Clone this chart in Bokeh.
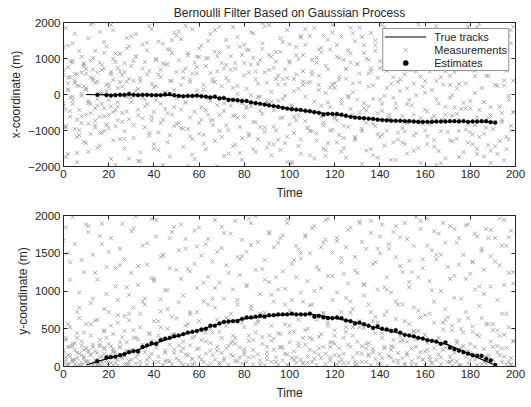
from bokeh.plotting import figure
from bokeh.models import FixedTicker, LinearAxis, Range1d, Legend, LegendItem
from bokeh.layouts import column
from bokeh.embed import file_html
from bokeh.resources import INLINE

# ---------------- data ----------------
x_ticks = [0, 20, 40, 60, 80, 100, 120, 140, 160, 180, 200]
y_ticks_top = [-2000, -1000, 0, 1000, 2000]
y_ticks_bottom = [0, 500, 1000, 1500, 2000]

# clutter / measurements (time, x, y) - block A (wide spread)
meas_t_a = [
    1,1,2,2,3,3,4,5,5,6,7,7,8,9,9,10,11,11,12,13,
    13,14,15,15,16,17,17,18,19,19,20,21,21,22,23,23,24,25,25,26,
    27,27,28,29,29,30,31,31,32,33,33,34,35,35,36,37,37,38,39,39,
    40,41,41,42,43,43,44,45,45,46,47,47,48,49,49,50,51,51,52,53,
    53,54,55,55,56,57,57,58,59,59,60,61,61,62,63,63,64,65,65,66,
    67,67,68,69,69,70,71,71,72,73,73,74,75,75,76,77,77,78,79,79,
    80,81,81,82,83,83,84,85,85,86,87,87,88,89,89,90,91,91,92,93,
    93,94,95,95,96,97,97,98,99,99,100,101,101,102,103,103,104,105,105,106,
    107,107,108,109,109,110,111,111,112,113,113,114,115,115,116,117,117,118,119,119,
    120,121,121,122,123,123,124,125,125,126,127,127,128,129,129,130,131,131,132,133,
    133,134,135,135,136,137,137,138,139,139,140,141,141,142,143,143,144,145,145,146,
    147,147,148,149,149,150,151,151,152,153,153,154,155,155,156,157,157,158,159,159,
    160,161,161,162,163,163,164,165,165,166,167,167,168,169,169,170,171,171,172,173,
    173,174,175,175,176,177,177,178,179,179,180,181,181,182,183,183,184,185,185,186,
    187,187,188,189,189,190,191,191,192,193,193,194,195,195,196,197,197,198,199,199,
]
meas_x_a = [
    1850,-420,310,-1650,920,-80,1420,-960,560,-1880,240,1210,-610,-1320,780,130,-240,1560,-1100,450,
    1010,-730,-1480,360,1740,-260,680,-1010,90,1330,-560,1930,-1790,410,-880,1140,-330,640,-1240,220,
    870,-1500,1280,-50,-690,1620,380,-1200,1050,-420,150,-1850,720,1390,-910,560,-270,1900,-620,300,
    -1380,990,-150,1470,-790,480,-1960,830,60,-520,1250,-1130,380,1720,-350,-820,950,-40,1540,-1450,
    640,-230,1150,-960,420,-1670,1810,-480,760,110,-1090,1360,-700,270,-1520,1000,-120,590,1680,-850,
    350,-1290,1060,-560,1880,-80,-1710,720,460,-990,1320,-310,190,-1440,870,1590,-650,-200,1100,-1820,
    530,-380,1240,-1150,830,-20,1700,-770,-1600,300,960,-450,1420,-1030,620,-240,1930,-1360,80,740,
    -890,1180,-170,520,-1540,1460,-640,280,-1170,1790,880,-350,-1880,430,1090,-710,160,1620,-1250,650,
    -60,1380,-920,340,-1690,960,1850,-470,-1080,520,120,1300,-780,-1500,800,-220,1520,-1000,280,1720,
    -600,1050,-1330,410,1610,-140,-870,720,-1760,1230,-400,890,60,-1180,1480,-640,330,1860,-950,-240,
    1150,-1560,590,-330,1710,-820,250,1360,-1100,-520,920,1940,-260,-1420,660,180,-690,1240,-1820,480,
    1560,-380,-1250,830,100,-930,1420,560,-1640,-150,1080,1790,-560,300,-1080,1320,-760,-1900,960,220,
    -420,1640,-1160,640,1170,-660,-1450,380,1900,-250,810,-1020,1500,-560,-1770,1080,-90,520,-1300,1350,
    1730,-540,-1010,290,1210,-230,-1600,880,1480,-830,-390,1020,-1380,660,1860,-630,-1180,1280,180,-1720,
    520,-920,1460,-350,-1560,1090,-760,1760,240,-1290,820,-510,1350,-1830,660,-140,1600,-1000,380,1890,
]
meas_y_a = [
    120,1840,40,560,1380,260,80,1620,310,720,20,980,150,1250,450,60,1780,210,840,30,
    1480,90,620,1150,270,1890,10,760,1320,380,140,540,1700,230,1060,50,880,1560,320,110,
    670,1420,190,950,30,1240,480,1830,120,360,1080,700,250,1600,820,90,1350,430,1950,170,
    1130,330,1720,60,890,520,1480,210,1010,760,70,1300,420,1850,180,640,1540,280,1160,20,
    940,1690,150,560,1260,380,30,1800,720,1040,240,1470,90,860,1620,330,1190,500,40,1390,
    780,1940,210,1110,460,1570,80,900,1340,270,620,1760,140,1020,380,1450,70,1210,580,1680,
    230,1060,1520,410,800,1900,130,1280,560,1650,30,960,390,1410,710,190,1120,1780,340,860,
    1580,60,1020,440,1700,250,1260,820,1950,160,540,1360,700,90,1180,1600,310,980,1430,50,
    1740,480,1130,220,1500,820,1860,100,660,1280,390,1040,1640,260,1940,580,1200,120,880,1510,
    300,1660,980,140,1380,720,40,1580,460,1100,1840,260,760,1450,60,1240,520,1920,170,940,
    1090,1560,310,820,1770,190,1360,660,1020,40,1500,440,1880,240,1180,730,1620,120,980,350,
    1450,860,80,1710,330,1250,600,1900,180,1050,1400,20,780,1600,260,1180,470,1820,90,1300,
    680,1960,220,1130,1540,40,860,1420,330,1760,120,1000,580,1640,250,1320,60,1860,480,910,
    1200,310,1700,20,900,1480,180,1160,640,1880,90,1380,460,1020,1720,150,800,1560,30,1280,
    560,1820,110,1060,1460,260,1700,20,880,1340,150,1600,420,1940,700,60,1240,1800,330,1100,
]

# block B (denser near the middle in x and near the floor in y)
meas_t_b = [
    0,0,1,2,2,3,4,4,5,6,6,7,8,8,9,10,10,11,12,12,
    13,14,14,15,16,16,17,18,18,19,20,20,21,22,22,23,24,24,25,26,
    26,27,28,28,29,30,30,31,32,32,33,34,34,35,36,36,37,38,38,39,
    40,40,41,42,42,43,44,44,45,46,46,47,48,48,49,50,50,51,52,52,
    53,54,54,55,56,56,57,58,58,59,60,60,61,62,62,63,64,64,65,66,
    66,67,68,68,69,70,70,71,72,72,73,74,74,75,76,76,77,78,78,79,
    80,80,81,82,82,83,84,84,85,86,86,87,88,88,89,90,90,91,92,92,
    93,94,94,95,96,96,97,98,98,99,100,100,101,102,102,103,104,104,105,106,
    106,107,108,108,109,110,110,111,112,112,113,114,114,115,116,116,117,118,118,119,
    120,120,121,122,122,123,124,124,125,126,126,127,128,128,129,130,130,131,132,132,
    133,134,134,135,136,136,137,138,138,139,140,140,141,142,142,143,144,144,145,146,
    146,147,148,148,149,150,150,151,152,152,153,154,154,155,156,156,157,158,158,159,
    160,160,161,162,162,163,164,164,165,166,166,167,168,168,169,170,170,171,172,172,
    173,174,174,175,176,176,177,178,178,179,180,180,181,182,182,183,184,184,185,186,
    186,187,188,188,189,190,190,191,192,192,193,194,194,195,196,196,197,198,198,199,
]
meas_x_b = [
    -250,680,-910,140,470,-620,880,-70,320,-1180,560,-430,1050,-790,230,-1350,710,-180,940,-520,
    390,-860,1220,-310,60,-1060,830,-600,1460,270,-150,-940,620,-1270,990,-440,180,-720,1130,-30,
    540,-1020,360,-470,1340,-210,790,-860,110,1060,-580,-1610,450,-90,900,-330,1230,-1140,660,-720,
    200,-480,960,-1050,560,-260,1410,-700,30,840,-1330,380,-560,1150,-880,620,-110,1750,-420,270,
    -950,730,-210,1090,-640,350,-1230,880,-30,590,-800,1280,-360,140,-1120,790,-560,1010,-180,430,
    -710,1190,-300,640,-1010,230,870,-460,1520,-860,380,-140,1060,-590,-1390,720,20,-900,1330,-250,
    870,-610,160,-1090,610,-330,1020,-760,420,-1240,850,-60,-540,1270,-920,330,-1480,680,-200,1050,
    -440,910,-1000,280,-650,1180,-120,700,-1350,460,-830,1400,-300,90,-1070,560,-580,980,-1640,360,
    1100,-740,330,-480,1620,-1020,640,-200,880,-1280,270,-620,1170,-860,40,-1540,700,-350,1250,-980,
    180,-660,1380,-1130,490,-250,960,-1480,710,-40,-900,1140,-560,310,-1260,840,-140,580,-1020,1600,
    -380,1000,-780,220,-1520,640,-120,1210,-880,460,-1180,730,-460,1470,-40,-1000,910,-650,300,-1330,
    810,-250,1260,-1060,420,-600,990,-1380,170,-790,1530,-300,680,-1140,-20,890,-1480,500,-660,1190,
    -1000,370,-470,1360,-820,120,-1270,760,-120,1050,-1570,480,-700,1220,-340,850,-1040,260,-590,1480,
    620,-1230,170,-700,1030,-400,1640,-970,310,-1340,690,-180,1180,-850,40,-1510,790,-430,1310,-1090,
    -210,860,-1410,510,-580,1260,-960,270,-1650,940,-330,1120,-760,390,-1180,700,-40,-870,1420,-500,
]
meas_y_b = [
    60,210,380,10,150,520,90,270,30,440,180,640,20,330,110,560,240,70,410,160,
    290,40,610,180,20,350,130,480,250,80,720,300,50,200,430,110,580,10,260,390,
    140,470,30,320,610,90,220,780,40,380,160,520,70,290,900,190,30,440,120,340,
    600,60,250,410,130,730,20,360,180,500,80,290,660,30,220,420,110,850,200,50,
    330,160,540,20,280,690,100,400,40,230,600,130,350,60,470,170,820,10,310,150,
    450,90,260,620,30,180,380,110,540,240,20,700,160,410,70,300,880,120,250,40,
    190,520,60,340,120,760,220,30,450,160,590,80,300,680,20,260,140,410,60,950,
    370,120,680,30,250,430,80,560,170,20,320,740,110,460,200,50,620,270,90,380,
    40,290,500,130,810,60,360,190,620,20,240,430,110,700,170,30,540,260,80,320,
    150,480,30,240,640,90,380,170,520,50,290,860,120,410,20,330,180,600,60,270,
    510,60,300,140,720,20,230,440,100,580,170,40,380,260,680,10,140,490,220,70,
    260,630,40,180,400,110,820,20,330,150,560,70,240,470,30,360,120,650,190,90,
    420,20,310,700,130,50,240,580,90,380,160,30,490,220,760,60,280,130,540,10,
    180,340,70,610,20,250,450,120,720,40,300,180,530,90,260,20,400,150,640,60,
    230,40,560,150,330,90,480,20,270,190,410,60,700,130,30,250,520,110,20,340,
]

# block C (dense clutter near the origin)
meas_t_c = [0,0,1,2,2,3,4,4,5,6,6,7,8,8,9,10,10,11,12,12,
            13,14,14,15,16,16,17,18,18,19,20,21,22,23,24,25,26,27,28,29]
meas_x_c = [-320,540,-880,120,760,-460,940,-150,380,-700,250,-990,610,-40,830,-560,170,-810,470,-260,
            690,-920,330,-130,880,-620,40,-380,720,-840,210,560,-480,900,-210,350,-760,620,-60,440]
meas_y_c = [40,180,90,260,20,140,300,60,220,110,10,170,280,50,130,240,70,190,30,150,
            260,80,200,10,120,290,60,170,230,40,110,270,20,190,90,250,140,30,210,70]

# block D (further wide-spread clutter)
meas_t_d = [
    0,1,3,4,5,7,8,9,11,12,14,15,16,18,19,20,22,23,24,26,
    27,28,30,31,33,34,35,37,38,39,41,42,43,45,46,47,49,50,52,53,
    54,56,57,58,60,61,62,64,65,66,68,69,71,72,73,75,76,77,79,80,
    81,83,84,85,87,88,90,91,92,94,95,96,98,99,100,102,103,104,106,107,
    109,110,111,113,114,115,117,118,119,121,122,123,125,126,128,129,130,132,133,134,
    136,137,138,140,141,142,144,145,147,148,149,151,152,153,155,156,157,159,160,161,
    163,164,166,167,168,170,171,172,174,175,176,178,179,180,182,183,185,186,187,189,
    190,191,193,194,195,197,198,199,2,6,10,13,17,21,25,29,32,36,40,44,
    48,51,55,59,63,67,70,74,78,82,86,89,93,97,101,105,108,112,116,120,
    124,127,131,135,139,143,146,150,154,158,162,165,169,173,177,181,184,188,192,196,
]
meas_x_d = [
    1320,-1740,480,-260,1690,-1130,20,870,-1590,1950,-380,610,-1420,1160,-840,290,1780,-1960,740,-510,
    -1230,1570,-90,930,-1850,370,-660,1440,-1070,1810,230,-1550,690,-400,1260,-1720,120,1640,-930,460,
    1910,-1160,580,-1800,1050,-20,-1370,1490,-720,360,-1990,1170,-250,820,-1640,1870,-580,240,-1210,1380,
    -330,1730,-1520,640,-910,1990,-170,1100,-1690,430,-1260,1560,-40,-1870,930,-620,1320,-1430,270,1820,
    -1010,560,-1780,1250,-310,1640,-1350,190,1930,-720,1010,-1590,440,-80,1700,-1220,850,-1930,1370,-450,
    720,-1690,1500,-140,-1120,1860,-560,980,-1820,350,1610,-1030,-270,1290,-1560,640,1950,-820,50,-1380,
    1440,-600,1040,-1910,280,1700,-1270,-20,1230,-1740,790,-380,1880,-1050,510,-1650,1170,-210,1560,-1900,
    920,-1440,1630,-700,250,-1250,1780,-480,1360,-1620,580,1990,-1060,-330,1130,-1780,1680,-140,-1500,860,
    1510,-790,-1990,1050,-430,1790,-1180,690,-1630,1240,-70,1890,-1390,420,-1910,1580,-930,1020,-1700,310,
    -1210,1850,-500,960,-1760,1400,-90,-1340,1720,-780,1180,-1950,650,-360,1540,-1110,1960,-640,1290,-1520,
]
meas_y_d = [
    1670,350,1150,1980,90,780,1410,220,1860,560,1240,30,1730,460,960,1520,190,1300,680,1890,
    140,1050,1790,380,1330,20,860,1630,290,1170,1940,600,1450,70,1010,1700,430,1280,1880,240,
    1560,720,100,1360,1840,480,1110,1690,210,900,1520,50,1770,640,1240,330,1930,820,1460,160,
    1080,1610,350,1990,700,1290,90,1760,540,1180,1640,260,1030,1900,450,1410,120,1550,860,1720,
    380,1830,1000,160,1580,710,1960,320,1200,1700,60,1440,910,1810,520,1270,30,1650,1080,240,
    1930,600,1380,1720,110,1050,1560,270,1860,820,1330,40,1690,1120,460,1980,740,1420,200,1600,
    1010,1790,300,1480,1900,650,1160,80,1640,1350,500,1870,210,1230,1760,420,1530,960,130,1810,
    560,1390,1960,240,1080,1710,30,1250,1500,380,1880,900,1620,130,1340,700,1990,260,1160,1470,
    1780,80,1290,1590,450,1040,1850,310,1420,1960,620,1150,220,1740,880,1500,50,1320,1680,410,
    1230,710,1900,160,1560,1020,1780,350,1250,1930,90,1480,620,1820,270,1390,1060,1700,480,1600,
]

# true tracks
true_t = [10, 20, 30, 40, 50, 60, 70, 80, 90, 100, 110, 120, 130, 140, 150, 160, 170, 180, 190]
true_x = [0, -10, 0, -10, -30, -40, -100, -180, -290, -400, -480, -550, -640, -700, -740, -760, -750, -750, -770]
true_y = [20, 110, 190, 300, 400, 480, 580, 630, 670, 690, 690, 640, 580, 500, 430, 360, 290, 160, 30]

# estimates
est_t = [15,19,21,23,25,27,29,31,33,35,37,39,41,43,45,47,49,51,53,55,
         57,59,61,63,65,67,69,71,73,75,77,79,81,83,85,87,89,91,93,95,
         97,99,101,103,105,107,109,111,113,115,117,119,121,123,125,127,129,131,133,135,
         137,139,141,143,145,147,149,151,153,155,157,159,161,163,165,167,169,171,173,175,
         177,179,181,183,185,187,189,191]
est_x = [-10,-20,-30,-20,-10,-10,20,-10,-20,-10,-10,-20,-20,-20,0,10,-20,-40,-50,-40,
         -40,-30,-50,-60,-80,-60,-110,-100,-150,-150,-160,-180,-180,-220,-240,-260,-280,-300,-320,-340,
         -370,-390,-410,-420,-430,-450,-460,-490,-510,-560,-540,-540,-540,-560,-590,-620,-640,-650,-660,-670,
         -680,-700,-710,-720,-730,-730,-730,-740,-740,-750,-760,-760,-760,-760,-750,-750,-750,-740,-740,-750,
         -740,-760,-750,-750,-740,-740,-770,-780]
est_y = [70,120,125,130,150,165,190,205,200,260,280,310,300,350,370,380,400,410,430,450,
         460,470,490,500,540,540,570,590,595,600,600,630,650,650,660,670,660,680,680,690,
         690,690,700,690,690,690,700,660,670,650,640,640,650,640,610,600,570,580,560,540,
         510,530,500,490,470,480,450,420,410,400,380,370,350,340,330,300,320,250,230,210,
         190,170,150,140,140,100,80,20]

meas_t = meas_t_a + meas_t_b + meas_t_c + meas_t_d
meas_x = meas_x_a + meas_x_b + meas_x_c + meas_x_d
meas_y = meas_y_a + meas_y_b + meas_y_c + meas_y_d

FONT = "Liberation Sans"
GRAY = "#ababab"
INK = "#262626"


def style(p, yticks, ylabel):
    p.xaxis.ticker = FixedTicker(ticks=x_ticks)
    p.yaxis.ticker = FixedTicker(ticks=yticks)
    p.xgrid.visible = False
    p.ygrid.visible = False
    p.outline_line_color = INK
    p.outline_line_width = 1
    for ax in p.xaxis + p.yaxis:
        ax.major_tick_in = 4
        ax.major_tick_out = 0
        ax.minor_tick_line_color = None
        ax.axis_line_color = INK
        ax.major_tick_line_color = INK
        ax.major_label_text_font = FONT
        ax.major_label_text_font_size = "11.5px"
        ax.major_label_text_color = INK
        ax.axis_label_text_font = FONT
        ax.axis_label_text_font_size = "12px"
        ax.axis_label_text_font_style = "normal"
        ax.axis_label_text_color = INK
        ax.major_label_standoff = 3
        ax.axis_label_standoff = 2
    p.xaxis.axis_label_standoff = 5
    p.xaxis.axis_label = "Time"
    p.yaxis.axis_label = ylabel
    # box ticks on top and right (labels not drawn)
    top = LinearAxis(ticker=FixedTicker(ticks=x_ticks), major_label_text_font_size="1px",
                     major_label_text_color=None, major_label_standoff=0,
                     major_tick_in=4, major_tick_out=0, minor_tick_line_color=None,
                     axis_line_color=INK, major_tick_line_color=INK)
    right = LinearAxis(ticker=FixedTicker(ticks=yticks), major_label_text_font_size="1px",
                       major_label_text_color=None, major_label_standoff=0,
                       major_tick_in=4, major_tick_out=0, minor_tick_line_color=None,
                       axis_line_color=INK, major_tick_line_color=INK)
    p.add_layout(top, "above")
    p.add_layout(right, "right")


# ---------------- top panel ----------------
p1 = figure(width=531, height=202, x_range=Range1d(0, 200), y_range=Range1d(-2000, 2000),
            output_backend="svg", toolbar_location=None,
            min_border_left=63, min_border_right=16, min_border_top=22, min_border_bottom=30,
            title="Bernoulli Filter Based on Gaussian Process")
p1.title.align = "center"
p1.title.text_font = FONT
p1.title.text_font_size = "12px"
p1.title.text_font_style = "normal"
p1.title.text_color = INK
p1.title.offset = 0
p1.title.standoff = 5

r_meas1 = p1.scatter(meas_t, meas_x, marker="x", size=5.5, line_color=GRAY, line_width=1)
r_true1 = p1.line(true_t, true_x, line_color="black", line_width=1.2)
r_est1 = p1.scatter(est_t, est_x, marker="circle", size=3.8, fill_color="black",
                    line_color="black", line_width=0.5)
style(p1, y_ticks_top, "x-coordinate (m)")

legend = Legend(items=[LegendItem(label="True tracks", renderers=[r_true1]),
                       LegendItem(label="Measurements", renderers=[r_meas1]),
                       LegendItem(label="Estimates", renderers=[r_est1])],
                location="top_right")
legend.border_line_color = INK
legend.border_line_width = 1
legend.background_fill_alpha = 1
legend.label_text_font = FONT
legend.label_text_font_size = "11px"
legend.label_text_color = INK
legend.glyph_width = 42
legend.glyph_height = 13
legend.label_height = 13
legend.spacing = 0
legend.padding = 1
legend.margin = 6
legend.label_standoff = 8
p1.add_layout(legend)

# ---------------- bottom panel ----------------
p2 = figure(width=531, height=205, x_range=Range1d(0, 200), y_range=Range1d(0, 2000),
            output_backend="svg", toolbar_location=None,
            min_border_left=63, min_border_right=16, min_border_top=13, min_border_bottom=41)
p2.scatter(meas_t, meas_y, marker="x", size=5.5, line_color=GRAY, line_width=1)
p2.line(true_t, true_y, line_color="black", line_width=1.2)
p2.scatter(est_t, est_y, marker="circle", size=3.8, fill_color="black",
           line_color="black", line_width=0.5)
style(p2, y_ticks_bottom, "y-coordinate (m)")

layout = column(p1, p2, spacing=0)
open("out.html", "w").write(file_html(layout, INLINE))
